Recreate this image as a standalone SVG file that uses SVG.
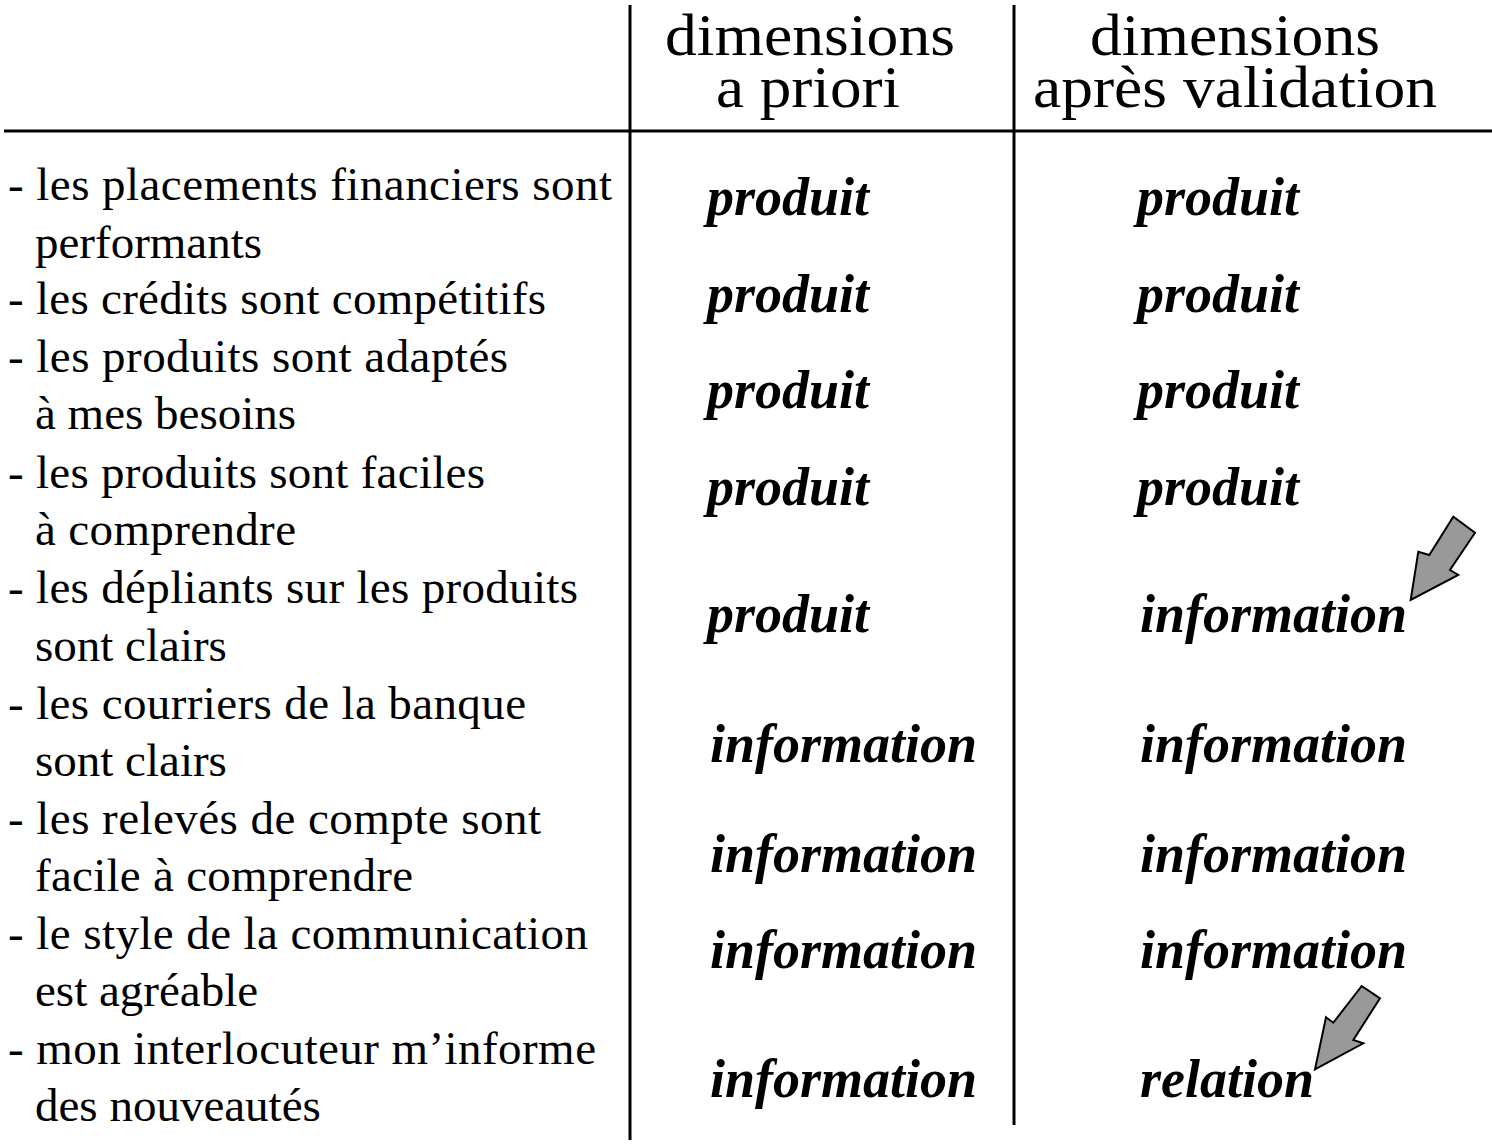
<svg xmlns="http://www.w3.org/2000/svg" width="1492" height="1144" viewBox="0 0 1492 1144">
<style>
.hd{font-family:"Liberation Serif","Times New Roman",serif;font-size:60px;fill:#000}
.it{font-family:"Liberation Serif","Times New Roman",serif;font-size:47px;fill:#000}
.dm{font-family:"Liberation Serif","Times New Roman",serif;font-size:54px;font-weight:bold;font-style:italic;fill:#000}
.ln{stroke:#000;stroke-width:3;fill:none}
.ar{fill:#999;stroke:#000;stroke-width:2;stroke-linejoin:miter}
</style>
<rect width="1492" height="1144" fill="#fff"/>
<g id="grid">
<line class="ln" x1="4" y1="131" x2="1492" y2="131"/>
<line class="ln" x1="630" y1="5" x2="630" y2="1140"/>
<line class="ln" x1="1014" y1="5" x2="1014" y2="1125"/>
</g>
<g id="header">
<text class="hd" x="665" y="55" textLength="290" lengthAdjust="spacingAndGlyphs">dimensions</text>
<text class="hd" x="716" y="107" textLength="184" lengthAdjust="spacingAndGlyphs">a priori</text>
<text class="hd" x="1090" y="55" textLength="290" lengthAdjust="spacingAndGlyphs">dimensions</text>
<text class="hd" x="1033" y="107" textLength="404" lengthAdjust="spacingAndGlyphs">après validation</text>
</g>
<g id="items">
<text class="it" x="8" y="200" textLength="604">- les placements financiers sont</text>
<text class="it" x="35" y="258">performants</text>
<text class="it" x="8" y="314" textLength="538">- les crédits sont compétitifs</text>
<text class="it" x="8" y="372" textLength="500">- les produits sont adaptés</text>
<text class="it" x="35" y="429">à mes besoins</text>
<text class="it" x="8" y="488" textLength="477">- les produits sont faciles</text>
<text class="it" x="35" y="545" textLength="261">à comprendre</text>
<text class="it" x="8" y="603" textLength="570">- les dépliants sur les produits</text>
<text class="it" x="35" y="661">sont clairs</text>
<text class="it" x="8" y="719" textLength="518">- les courriers de la banque</text>
<text class="it" x="35" y="776">sont clairs</text>
<text class="it" x="8" y="834" textLength="533">- les relevés de compte sont</text>
<text class="it" x="35" y="891" textLength="378">facile à comprendre</text>
<text class="it" x="8" y="949" textLength="580">- le style de la communication</text>
<text class="it" x="35" y="1006">est agréable</text>
<text class="it" x="8" y="1064" textLength="588">- mon interlocuteur m’informe</text>
<text class="it" x="35" y="1121">des nouveautés</text>
</g>
<g id="apriori">
<text class="dm" x="707" y="215">produit</text>
<text class="dm" x="707" y="312">produit</text>
<text class="dm" x="707" y="408">produit</text>
<text class="dm" x="707" y="505">produit</text>
<text class="dm" x="707" y="632">produit</text>
<text class="dm" x="710" y="762">information</text>
<text class="dm" x="710" y="872">information</text>
<text class="dm" x="710" y="968">information</text>
<text class="dm" x="710" y="1097">information</text>
</g>
<g id="validation">
<text class="dm" x="1137" y="215">produit</text>
<text class="dm" x="1137" y="312">produit</text>
<text class="dm" x="1137" y="408">produit</text>
<text class="dm" x="1137" y="505">produit</text>
<text class="dm" x="1140" y="632">information</text>
<text class="dm" x="1140" y="762">information</text>
<text class="dm" x="1140" y="872">information</text>
<text class="dm" x="1140" y="968">information</text>
<text class="dm" x="1140" y="1097">relation</text>
</g>
<g id="connectors">
<polygon class="ar" points="1410.7,600 1418.3,551.7 1429.3,555 1453.3,516.7 1475,532.7 1450,570 1458.3,575"/>
<polygon class="ar" points="1315,1069.3 1326,1017.3 1333.3,1022.7 1361.7,986 1380,998.3 1353.3,1040 1363.3,1043.3"/>
</g>
</svg>
